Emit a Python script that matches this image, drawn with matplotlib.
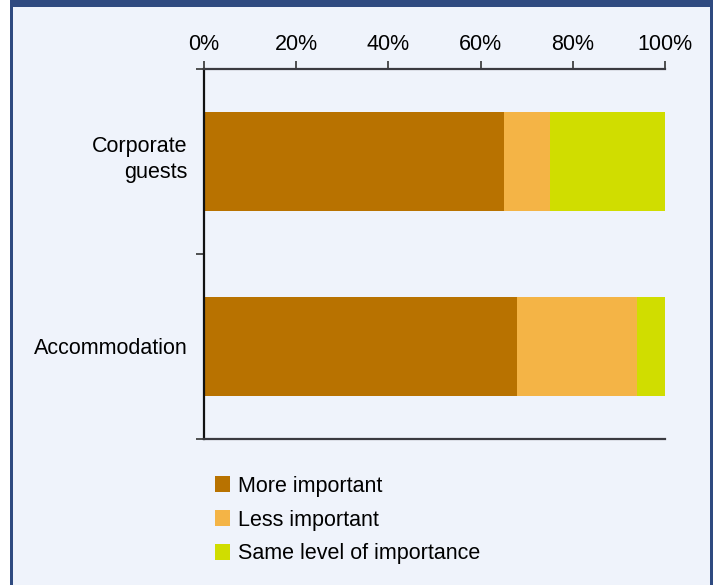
import matplotlib.pyplot as plt
from matplotlib.patches import Rectangle
from matplotlib.transforms import offset_copy
import numpy as np

plt.rcParams['font.family'] = ['Liberation Sans', 'DejaVu Sans']

categories = ['Corporate\nguests', 'Accommodation']
more_important = [65, 68]
less_important = [10, 26]
same_level = [25, 6]
series_names = ['More important', 'Less important', 'Same level of importance']
colors = ['#b87200', '#f4b446', '#d0dd00']
xticks = [0, 20, 40, 60, 80, 100]

W, H = 715, 585
FS = 15.5
fig = plt.figure(figsize=(W / 100, H / 100), dpi=100, facecolor='white')

# panel frame: dark blue border, pale fill
fig.patches.append(Rectangle((10 / W, 0), 703 / W, 1, transform=fig.transFigure,
                             facecolor='#2f4a80', edgecolor='none', zorder=-2))
fig.patches.append(Rectangle((13 / W, 0), 697 / W, (H - 7) / H, transform=fig.transFigure,
                             facecolor='#eff3fb', edgecolor='none', zorder=-1))

ax = fig.add_axes([204 / W, 1 - 439 / H, 461 / W, 370 / H])
ax.set_zorder(2)
ax.set_facecolor('none')

ypos = np.arange(len(categories)) + 0.5
left = np.zeros(len(categories))
for vals, name, c in zip([more_important, less_important, same_level], series_names, colors):
    ax.barh(ypos, vals, left=left, height=0.54, color=c, label=name, zorder=2)
    left = left + np.array(vals)

ax.set_xlim(0, 100)
ax.set_ylim(2, 0)
ax.xaxis.tick_top()
ax.set_xticks(xticks)
ax.set_xticklabels([f'{t}%' for t in xticks], fontsize=FS)
ax.tick_params(axis='x', direction='out', length=6, width=1.2, color='#333333', pad=4)

# category boundaries get ticks, names sit at bar centres
ax.set_yticks([0, 1, 2])
ax.set_yticklabels([])
ax.tick_params(axis='y', direction='out', length=6, width=1.2, color='#333333')
ytrans = offset_copy(ax.get_yaxis_transform(), fig=fig, x=-12, y=0, units='points')
for y, name in zip(ypos, categories):
    nudge = 0.037 if '\n' in name else 0
    ax.text(0, y - nudge, name, transform=ytrans, fontsize=FS, ha='right',
            va='center_baseline', multialignment='right', linespacing=1.3)

ax.spines['right'].set_visible(False)
ax.spines['left'].set_color('#111111')
ax.spines['left'].set_linewidth(1.6)
for s in ['top', 'bottom']:
    ax.spines[s].set_color('#3a3a40')
    ax.spines[s].set_linewidth(1.6)

leg = fig.legend(loc='upper left', bbox_to_anchor=(206 / W, 1 - 467 / H), frameon=False,
                 fontsize=FS, handlelength=0.72, handleheight=0.72, handletextpad=0.35,
                 labelspacing=0.6, borderaxespad=0)
leg.set_zorder(3)

fig.savefig('out.png', dpi=100, facecolor=fig.get_facecolor())
